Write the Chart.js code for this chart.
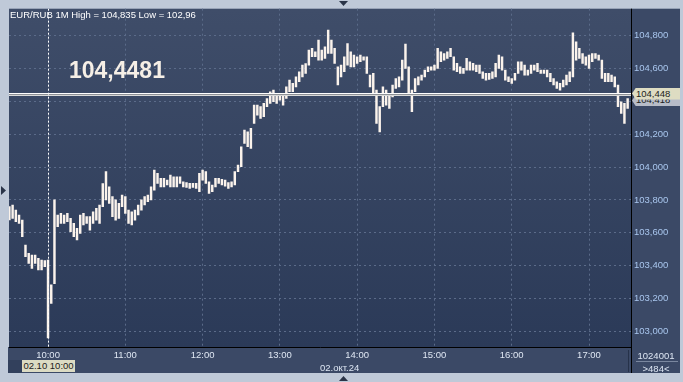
<!DOCTYPE html>
<html>
<head>
<meta charset="utf-8">
<script src="https://cdn.jsdelivr.net/npm/chart.js@4.4.0/dist/chart.umd.min.js"></script>
<style>
  body { margin: 0; background: #bfc9d8; }
  #wrap { position: relative; width: 683px; height: 382px; overflow: hidden; font-family: "Liberation Sans", Arial, sans-serif; }
  canvas { position: absolute; left: 0; top: 0; }
  .t { position: absolute; white-space: nowrap; font-size: 9.5px; line-height: 11px; }
  #head { left: 10px; top: 9px; color: #ffffff; }
  #big { left: 69px; top: 59px; color: #f6efe6; font-size: 23px; line-height: 23px; font-weight: bold; }
  .tag { position: absolute; left: 632px; width: 48px; height: 12px; line-height: 12px; font-size: 9.5px; color: #1c1c1c; padding-left: 4px; box-sizing: border-box;
         clip-path: polygon(0 50%, 4px 0, 100% 0, 100% 100%, 4px 100%); }
  #tagAsk { background: #b7bcc8; }
  #tagLast { background: #dedcc2; }
  #dateTag { left: 22px; top: 360px; width: 53px; height: 12px; line-height: 12px; background: #dcdbc3; color: #1c1c1c; text-align: center; }
  #dateLbl { left: 320px; top: 362px; color: #dde6f3; }
  #cnt1 { left: 632px; width: 48px; top: 350px; text-align: center; color: #dde6f3; }
  #cnt2 { left: 632px; width: 48px; top: 363px; text-align: center; color: #dde6f3; }
</style>
</head>
<body>
<div id="wrap">
  <canvas id="chart" width="683" height="382"></canvas>
  <div class="t" id="head">EUR/RUB 1M High = 104,835 Low = 102,96</div>
  <div class="t" id="big">104,4481</div>
  <div class="tag" id="tagAsk">104,418</div>
  <div class="tag" id="tagLast">104,448</div>
  <div class="t" id="dateTag">02.10 10:00</div>
  <div class="t" id="dateLbl">02.окт.24</div>
  <div class="t" id="cnt1">1024001</div>
  <div class="t" id="cnt2">&gt;484&lt;</div>
</div>
<script>
// 2.5-minute ranges from 09:30 to 17:30, x in minutes from 10:00
const startMin = -30;
const stepMin = 2.5;

const highs = [
  103.759, 103.769, 103.738, 103.708, 103.677, 103.525, 103.474, 103.464, 103.464, 103.444, 103.434, 103.430,
  103.434, 103.282, 103.800, 103.708, 103.718, 103.708, 103.718, 103.688, 103.657, 103.627, 103.708, 103.718,
  103.698, 103.698, 103.728, 103.749, 103.769, 103.900, 103.972, 103.880, 103.820, 103.800, 103.779, 103.830,
  103.820, 103.738, 103.728, 103.738, 103.769, 103.800, 103.820, 103.830, 103.880, 103.982, 103.962, 103.931, 103.931, 103.921,
  103.951, 103.941, 103.941, 103.941, 103.911, 103.905, 103.901, 103.901, 103.901, 103.962, 103.982, 103.972,
  103.911, 103.891, 103.931, 103.931, 103.925, 103.921, 103.905, 103.911, 103.972, 104.012, 104.124, 104.226,
  104.215, 104.236, 104.378, 104.378, 104.368, 104.388, 104.418, 104.459, 104.469, 104.449, 104.449, 104.439,
  104.489, 104.530, 104.510, 104.550, 104.581, 104.621, 104.631, 104.713, 104.723, 104.703, 104.774, 104.713,
  104.733, 104.835, 104.774, 104.723, 104.611, 104.621, 104.672, 104.753, 104.703, 104.682, 104.672, 104.682,
  104.672, 104.672, 104.560, 104.571, 104.469, 104.368, 104.489, 104.469, 104.439, 104.500, 104.540, 104.550,
  104.652, 104.749, 104.611, 104.469, 104.540, 104.550, 104.560, 104.591, 104.611, 104.611, 104.621, 104.723,
  104.703, 104.692, 104.703, 104.723, 104.672, 104.632, 104.611, 104.601, 104.662, 104.642, 104.632, 104.621,
  104.621, 104.581, 104.571, 104.571, 104.581, 104.632, 104.682, 104.672, 104.591, 104.550, 104.540, 104.571,
  104.642, 104.642, 104.621, 104.591, 104.621, 104.621, 104.632, 104.591, 104.591, 104.591, 104.571, 104.540,
  104.520, 104.510, 104.530, 104.560, 104.581, 104.818, 104.763, 104.723, 104.692, 104.672, 104.682, 104.692,
  104.692, 104.682, 104.652, 104.571, 104.571, 104.560, 104.550, 104.500, 104.398, 104.388, 104.418
];

const lows = [
  103.678, 103.688, 103.667, 103.657, 103.576, 103.454, 103.413, 103.383, 103.413, 103.373, 103.373, 103.393,
  102.960, 103.170, 103.290, 103.637, 103.657, 103.657, 103.667, 103.606, 103.576, 103.556, 103.596, 103.647,
  103.657, 103.616, 103.657, 103.677, 103.657, 103.759, 103.800, 103.779, 103.698, 103.677, 103.688, 103.759,
  103.718, 103.657, 103.647, 103.677, 103.708, 103.738, 103.769, 103.789, 103.800, 103.860, 103.901, 103.880, 103.880, 103.891,
  103.880, 103.880, 103.880, 103.901, 103.880, 103.876, 103.870, 103.876, 103.870, 103.850, 103.921, 103.901,
  103.840, 103.850, 103.880, 103.901, 103.891, 103.884, 103.870, 103.880, 103.891, 103.972, 104.002, 104.144,
  104.124, 104.114, 104.266, 104.317, 104.297, 104.307, 104.368, 104.388, 104.398, 104.388, 104.408, 104.378,
  104.418, 104.459, 104.459, 104.489, 104.520, 104.550, 104.571, 104.621, 104.672, 104.672, 104.652, 104.652,
  104.662, 104.692, 104.692, 104.632, 104.500, 104.550, 104.581, 104.621, 104.611, 104.611, 104.632, 104.642,
  104.652, 104.571, 104.489, 104.449, 104.266, 104.215, 104.368, 104.378, 104.357, 104.428, 104.479, 104.489,
  104.530, 104.601, 104.449, 104.337, 104.459, 104.500, 104.530, 104.550, 104.581, 104.591, 104.591, 104.601,
  104.642, 104.652, 104.662, 104.672, 104.591, 104.581, 104.571, 104.571, 104.591, 104.591, 104.591, 104.581,
  104.571, 104.540, 104.530, 104.534, 104.540, 104.550, 104.601, 104.591, 104.530, 104.520, 104.510, 104.530,
  104.571, 104.591, 104.560, 104.560, 104.571, 104.591, 104.581, 104.571, 104.571, 104.550, 104.520, 104.500,
  104.479, 104.469, 104.489, 104.500, 104.520, 104.550, 104.652, 104.662, 104.632, 104.621, 104.601, 104.642,
  104.662, 104.652, 104.540, 104.520, 104.520, 104.520, 104.489, 104.368, 104.327, 104.266, 104.357
];

const hourTicks = [0, 60, 120, 180, 240, 300, 360, 420];
const hourLabels = ["10:00", "11:00", "12:00", "13:00", "14:00", "15:00", "16:00", "17:00"];
const priceTicks = [103.0, 103.2, 103.4, 103.6, 103.8, 104.0, 104.2, 104.4, 104.6, 104.8];
const lastPrice = 104.448;
const askPrice = 104.418;
const cursorMin = 0;

const bars = highs.map((h, i) => ({ x: startMin + stepMin * i, y: [lows[i], h] }));

const framePlugin = {
  id: "frame",
  beforeDraw(chart) {
    const ctx = chart.ctx;
    const a = chart.chartArea;
    ctx.save();
    // side panels
    ctx.fillStyle = "#3b4966";
    ctx.fillRect(8, a.bottom, a.right - 8, 373 - a.bottom);
    ctx.fillRect(a.right, a.top, 680 - a.right, 373 - a.top);
    ctx.fillStyle = "#32405c";
    ctx.fillRect(8, 360, 14, 13);
    // plot background
    const g = ctx.createLinearGradient(0, a.top, 0, a.bottom);
    g.addColorStop(0, "#3f4d69");
    g.addColorStop(1, "#2b3a58");
    ctx.fillStyle = g;
    ctx.fillRect(a.left, a.top, a.right - a.left, a.bottom - a.top);
    // frame arrows
    ctx.fillStyle = "#2a3448";
    ctx.beginPath(); ctx.moveTo(339, 1); ctx.lineTo(348, 1); ctx.lineTo(343.5, 6); ctx.fill();
    ctx.beginPath(); ctx.moveTo(1, 186); ctx.lineTo(6, 190.5); ctx.lineTo(1, 195); ctx.fill();
    ctx.beginPath(); ctx.moveTo(339, 381); ctx.lineTo(348, 381); ctx.lineTo(343.5, 376); ctx.fill();
    ctx.restore();
  },
  afterDatasetsDraw(chart) {
    const ctx = chart.ctx;
    const a = chart.chartArea;
    const xs = chart.scales.x, ys = chart.scales.y;
    ctx.save();
    // last price line
    const py = Math.round(ys.getPixelForValue(lastPrice)) - 1;
    [["#ffffff", 0], ["#8e9196", 1], ["#d9d9d9", 2]].forEach(([c, o]) => {
      ctx.fillStyle = c;
      ctx.fillRect(a.left, py + o, a.right - a.left, 1);
    });
    // cursor line
    const cx = Math.round(xs.getPixelForValue(cursorMin)) + 0.5;
    ctx.strokeStyle = "#ffffff";
    ctx.lineWidth = 1;
    ctx.setLineDash([2, 2]);
    ctx.beginPath(); ctx.moveTo(cx, a.top); ctx.lineTo(cx, a.bottom); ctx.stroke();
    ctx.setLineDash([]);
    // axis borders
    ctx.strokeStyle = "#000000";
    ctx.beginPath();
    ctx.moveTo(a.left, a.bottom + 0.5); ctx.lineTo(a.right + 1, a.bottom + 0.5);
    ctx.moveTo(a.right + 0.5, a.top); ctx.lineTo(a.right + 0.5, 373);
    ctx.stroke();
    ctx.strokeStyle = "#26324a";
    ctx.beginPath(); ctx.moveTo(628.5, 350); ctx.lineTo(628.5, 372); ctx.stroke();
    ctx.strokeStyle = "#7a879f";
    ctx.beginPath(); ctx.moveTo(636, 361.5); ctx.lineTo(678, 361.5); ctx.stroke();
    ctx.restore();
  }
};

const chart = new Chart(document.getElementById("chart"), {
  type: "bar",
  data: {
    datasets: [{
      data: bars,
      backgroundColor: "#fbf3ec",
      borderWidth: 0,
      barThickness: 1.8
    }]
  },
  options: {
    responsive: false,
    animation: false,
    devicePixelRatio: 1,
    layout: { padding: { left: 9, top: 8, right: 0, bottom: 0 } },
    plugins: { legend: { display: false }, tooltip: { enabled: false } },
    font: { family: "'Liberation Sans', Arial, sans-serif" },
    scales: {
      x: {
        type: "linear",
        min: -30.3,
        max: 452.6,
        offset: false,
        afterBuildTicks: s => { s.ticks = hourTicks.map(v => ({ value: v })); },
        afterFit: s => { s.height = 35; },
        grid: { color: "#5b6b89", drawTicks: false, offset: false },
        border: { display: false, dash: [2, 3] },
        ticks: {
          color: "#dfe7f3",
          padding: 3,
          maxRotation: 0,
          autoSkip: false,
          font: { family: "'Liberation Sans', Arial, sans-serif", size: 9.5 },
          callback: (v) => hourLabels[hourTicks.indexOf(v)]
        }
      },
      y: {
        position: "right",
        min: 102.904,
        max: 104.965,
        afterBuildTicks: s => { s.ticks = priceTicks.map(v => ({ value: v })); },
        afterFit: s => { s.width = 52; },
        grid: { color: "#5b6b89", drawTicks: false },
        border: { display: false, dash: [2, 3] },
        ticks: {
          color: "#a9c6ee",
          padding: 3,
          font: { family: "'Liberation Sans', Arial, sans-serif", size: 9.5 },
          callback: (v) => v.toFixed(3).replace(".", ",")
        }
      }
    }
  },
  plugins: [framePlugin]
});

// price tags follow the y scale
const ys = chart.scales.y;
document.getElementById("tagLast").style.top = (ys.getPixelForValue(lastPrice) - 6) + "px";
document.getElementById("tagAsk").style.top = (ys.getPixelForValue(askPrice) - 4) + "px";
</script>
</body>
</html>
